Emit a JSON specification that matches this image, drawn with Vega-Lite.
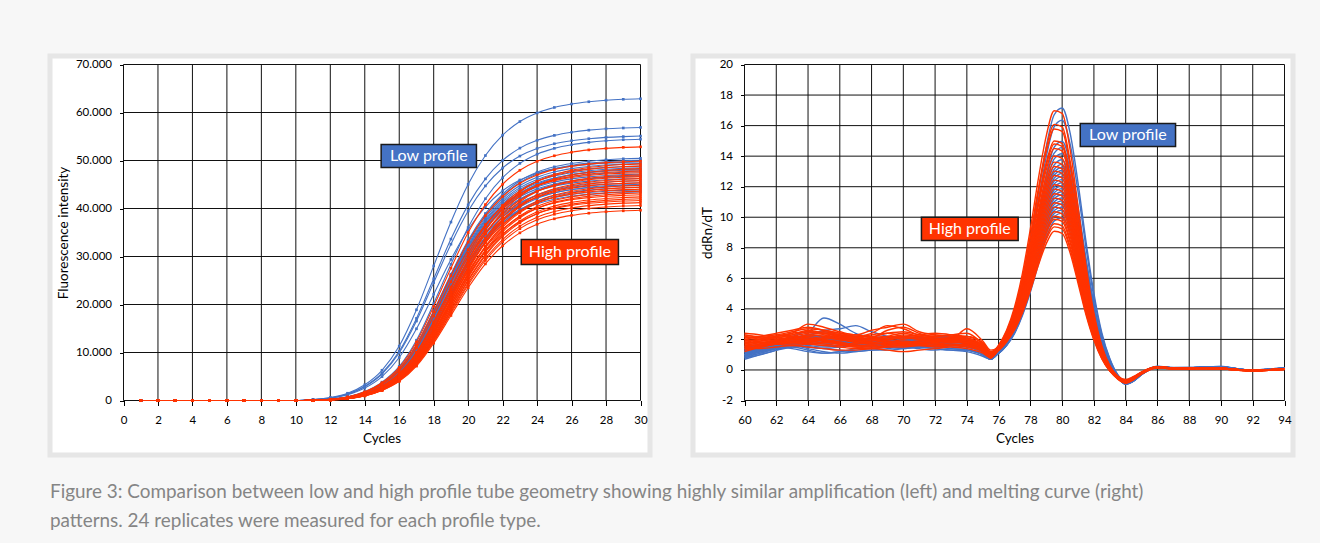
{
"$schema": "https://vega.github.io/schema/vega-lite/v6.json",
"background": "#f7f7f7",
"padding": {"left": 47, "top": 53, "right": 26, "bottom": 12},
"spacing": 37,
"title": {"text": ["Figure 3: Comparison between low and high profile tube geometry showing highly similar amplification (left) and melting curve (right)", "patterns. 24 replicates were measured for each profile type."], "orient": "bottom", "anchor": "start", "frame": "group", "offset": 25.5, "font": "Lato", "fontSize": 18.9, "fontWeight": "normal", "color": "#858585", "lineHeight": 29},
"datasets": {
"ampLow": [
{"k":"b1","c":[1,2,3,4,5,6,7,8,9,10,11,12,13,14,15,16,17,18,19,20,21,22,23,24,25,26,27,28,29,30],"y":[0,0,0,0,0,0,0,0,0,0,190,600,1510,3280,6300,11340,18900,28040,37170,45050,51030,55280,58120,59910,61050,61770,62240,62560,62750,62870]},
{"k":"b2","c":[1,2,3,4,5,6,7,8,9,10,11,12,13,14,15,16,17,18,19,20,21,22,23,24,25,26,27,28,29,30],"y":[0,0,0,0,0,0,0,0,0,0,170,540,1370,2960,5700,10260,17100,25370,33630,40760,46170,50020,52580,54210,55230,55890,56320,56600,56770,56890]},
{"k":"b3","c":[1,2,3,4,5,6,7,8,9,10,11,12,13,14,15,16,17,18,19,20,21,22,23,24,25,26,27,28,29,30],"y":[0,0,0,0,0,0,0,0,0,0,170,520,1320,2870,5520,9940,16560,24560,32570,39470,44710,48440,50920,52500,53490,54120,54540,54810,54980,55090]},
{"k":"b4","c":[1,2,3,4,5,6,7,8,9,10,11,12,13,14,15,16,17,18,19,20,21,22,23,24,25,26,27,28,29,30],"y":[0,0,0,0,0,0,0,0,0,0,50,270,760,1860,3820,7100,12560,20200,28390,36040,42040,46410,49410,51320,52530,53290,53780,54110,54330,54440]},
{"k":"b5","c":[1,2,3,4,5,6,7,8,9,10,11,12,13,14,15,16,17,18,19,20,21,22,23,24,25,26,27,28,29,30],"y":[0,0,0,0,0,0,0,0,0,0,50,250,710,1720,3540,6580,11640,18720,26310,33400,38960,43010,45790,47560,48680,49390,49840,50150,50350,50450]},
{"k":"b6","c":[1,2,3,4,5,6,7,8,9,10,11,12,13,14,15,16,17,18,19,20,21,22,23,24,25,26,27,28,29,30],"y":[0,0,0,0,0,0,0,0,0,0,50,250,700,1710,3510,6530,11550,18570,26100,33130,38650,42670,45430,47190,48290,49000,49450,49750,49950,50050]},
{"k":"b7","c":[1,2,3,4,5,6,7,8,9,10,11,12,13,14,15,16,17,18,19,20,21,22,23,24,25,26,27,28,29,30],"y":[0,0,0,0,0,0,0,0,0,0,150,470,1200,2590,4980,8960,14940,22160,29380,35610,40340,43700,45940,47360,48260,48830,49200,49450,49600,49700]},
{"k":"b8","c":[1,2,3,4,5,6,7,8,9,10,11,12,13,14,15,16,17,18,19,20,21,22,23,24,25,26,27,28,29,30],"y":[0,0,0,0,0,0,0,0,0,0,50,250,690,1680,3470,6440,11390,18320,25740,32670,38120,42080,44800,46530,47620,48310,48760,49050,49250,49350]},
{"k":"b9","c":[1,2,3,4,5,6,7,8,9,10,11,12,13,14,15,16,17,18,19,20,21,22,23,24,25,26,27,28,29,30],"y":[0,0,0,0,0,0,0,0,0,0,50,245,686,1666,3430,6370,11270,18130,25480,32340,37730,41650,44345,46060,47138,47824,48265,48559,48755,48853]},
{"k":"b10","c":[1,2,3,4,5,6,7,8,9,10,11,12,13,14,15,16,17,18,19,20,21,22,23,24,25,26,27,28,29,30],"y":[0,0,0,0,0,0,0,0,0,0,49,243,680,1652,3402,6318,11178,17982,25272,32076,37422,41310,43983,45684,46753,47434,47871,48163,48357,48454]},
{"k":"b11","c":[1,2,3,4,5,6,7,8,9,10,11,12,13,14,15,16,17,18,19,20,21,22,23,24,25,26,27,28,29,30],"y":[0,0,0,0,0,0,0,0,0,0,48,241,675,1639,3374,6266,11086,17834,25064,31812,37114,40970,43621,45308,46368,47043,47477,47766,47959,48055]},
{"k":"b12","c":[1,2,3,4,5,6,7,8,9,10,11,12,13,14,15,16,17,18,19,20,21,22,23,24,25,26,27,28,29,30],"y":[0,0,0,0,0,0,0,0,0,0,48,239,669,1625,3346,6214,10994,17686,24856,31548,36806,40630,43259,44932,45984,46653,47083,47370,47561,47657]},
{"k":"b13","c":[1,2,3,4,5,6,7,8,9,10,11,12,13,14,15,16,17,18,19,20,21,22,23,24,25,26,27,28,29,30],"y":[0,0,0,0,0,0,0,0,0,0,47,237,662,1608,3311,6149,10879,17501,24596,31218,36421,40205,42807,44462,45503,46165,46591,46874,47064,47158]},
{"k":"b14","c":[1,2,3,4,5,6,7,8,9,10,11,12,13,14,15,16,17,18,19,20,21,22,23,24,25,26,27,28,29,30],"y":[0,0,0,0,0,0,0,0,0,0,47,235,657,1595,3283,6097,10787,17353,24388,30954,36113,39865,42445,44086,45118,45774,46197,46478,46666,46759]},
{"k":"b15","c":[1,2,3,4,5,6,7,8,9,10,11,12,13,14,15,16,17,18,19,20,21,22,23,24,25,26,27,28,29,30],"y":[0,0,0,0,0,0,0,0,0,0,46,232,650,1578,3248,6032,10672,17168,24128,30624,35728,39440,41992,43616,44637,45286,45704,45982,46168,46261]},
{"k":"b16","c":[1,2,3,4,5,6,7,8,9,10,11,12,13,14,15,16,17,18,19,20,21,22,23,24,25,26,27,28,29,30],"y":[0,0,0,0,0,0,0,0,0,0,35,184,541,1334,2806,5290,9430,15410,22195,28750,34155,38180,40998,42838,43999,44735,45207,45517,45724,45839]},
{"k":"b17","c":[1,2,3,4,5,6,7,8,9,10,11,12,13,14,15,16,17,18,19,20,21,22,23,24,25,26,27,28,29,30],"y":[0,0,0,0,0,0,0,0,0,0,46,228,637,1547,3185,5915,10465,16835,23660,30030,35035,38675,41178,42770,43771,44408,44818,45091,45273,45364]},
{"k":"b18","c":[1,2,3,4,5,6,7,8,9,10,11,12,13,14,15,16,17,18,19,20,21,22,23,24,25,26,27,28,29,30],"y":[0,0,0,0,0,0,0,0,0,0,45,225,630,1530,3150,5850,10350,16650,23400,29700,34650,38250,40725,42300,43290,43920,44325,44595,44775,44865]},
{"k":"b19","c":[1,2,3,4,5,6,7,8,9,10,11,12,13,14,15,16,17,18,19,20,21,22,23,24,25,26,27,28,29,30],"y":[0,0,0,0,0,0,0,0,0,0,33,178,524,1293,2721,5129,9143,14941,21520,27875,33116,37018,39750,41534,42660,43374,43831,44132,44332,44444]},
{"k":"b20","c":[1,2,3,4,5,6,7,8,9,10,11,12,13,14,15,16,17,18,19,20,21,22,23,24,25,26,27,28,29,30],"y":[0,0,0,0,0,0,0,0,0,0,44,220,616,1496,3080,5720,10120,16280,22880,29040,33880,37400,39820,41360,42328,42944,43340,43604,43780,43868]},
{"k":"b21","c":[1,2,3,4,5,6,7,8,9,10,11,12,13,14,15,16,17,18,19,20,21,22,23,24,25,26,27,28,29,30],"y":[0,0,0,0,0,0,0,0,0,0,44,218,610,1482,3052,5668,10028,16132,22672,28776,33572,37060,39458,40984,41943,42554,42946,43208,43382,43469]},
{"k":"b22","c":[1,2,3,4,5,6,7,8,9,10,11,12,13,14,15,16,17,18,19,20,21,22,23,24,25,26,27,28,29,30],"y":[0,0,0,0,0,0,0,0,0,0,36,194,569,1404,2952,5566,9922,16214,23353,30250,35937,40172,43137,45073,46295,47069,47565,47892,48110,48231]},
{"k":"b23","c":[1,2,3,4,5,6,7,8,9,10,11,12,13,14,15,16,17,18,19,20,21,22,23,24,25,26,27,28,29,30],"y":[0,0,0,0,0,0,0,0,0,0,35,188,552,1363,2867,5405,9635,15745,22678,29375,34898,39010,41889,43769,44956,45708,46189,46507,46718,46836]},
{"k":"b24","c":[1,2,3,4,5,6,7,8,9,10,11,12,13,14,15,16,17,18,19,20,21,22,23,24,25,26,27,28,29,30],"y":[0,0,0,0,0,0,0,0,0,0,34,181,531,1311,2757,5198,9266,15142,21809,28250,33561,37516,40285,42093,43234,43957,44420,44725,44929,45042]}
],
"ampHigh": [
{"k":"r1","c":[1,2,3,4,5,6,7,8,9,10,11,12,13,14,15,16,17,18,19,20,21,22,23,24,25,26,27,28,29,30],"y":[0,0,0,0,0,0,0,0,0,0,53,265,742,1802,3710,6890,12190,19610,27560,34980,40810,45050,47965,49820,50986,51728,52205,52523,52735,52841]},
{"k":"r2","c":[1,2,3,4,5,6,7,8,9,10,11,12,13,14,15,16,17,18,19,20,21,22,23,24,25,26,27,28,29,30],"y":[0,0,0,0,0,0,0,0,0,0,50,250,700,1700,3500,6500,11500,18500,26000,33000,38500,42500,45250,47000,48100,48800,49250,49550,49750,49850]},
{"k":"r3","c":[1,2,3,4,5,6,7,8,9,10,11,12,13,14,15,16,17,18,19,20,21,22,23,24,25,26,27,28,29,30],"y":[0,0,0,0,0,0,0,0,0,0,25,149,470,1188,2574,4950,8910,14850,22028,29205,35393,40095,43436,45664,47075,47966,48535,48906,49154,49302]},
{"k":"r4","c":[1,2,3,4,5,6,7,8,9,10,11,12,13,14,15,16,17,18,19,20,21,22,23,24,25,26,27,28,29,30],"y":[0,0,0,0,0,0,0,0,0,0,37,196,576,1421,2989,5635,10045,16415,23643,30625,36383,40670,43671,45631,46869,47653,48155,48486,48706,48829]},
{"k":"r5","c":[1,2,3,4,5,6,7,8,9,10,11,12,13,14,15,16,17,18,19,20,21,22,23,24,25,26,27,28,29,30],"y":[0,0,0,0,0,0,0,0,0,0,24,146,461,1164,2522,4850,8730,14550,21583,28615,34678,39285,42559,44741,46124,46997,47554,47918,48161,48306]},
{"k":"r6","c":[1,2,3,4,5,6,7,8,9,10,11,12,13,14,15,16,17,18,19,20,21,22,23,24,25,26,27,28,29,30],"y":[0,0,0,0,0,0,0,0,0,0,36,192,564,1392,2928,5520,9840,16080,23160,30000,35640,39840,42780,44700,45912,46680,47172,47496,47712,47832]},
{"k":"r7","c":[1,2,3,4,5,6,7,8,9,10,11,12,13,14,15,16,17,18,19,20,21,22,23,24,25,26,27,28,29,30],"y":[0,0,0,0,0,0,0,0,0,0,48,238,666,1618,3332,6188,10948,17612,24752,31416,36652,40460,43078,44744,45791,46458,46886,47172,47362,47457]},
{"k":"r8","c":[1,2,3,4,5,6,7,8,9,10,11,12,13,14,15,16,17,18,19,20,21,22,23,24,25,26,27,28,29,30],"y":[0,0,0,0,0,0,0,0,0,0,24,142,448,1133,2454,4720,8496,14160,21004,27848,33748,38232,41418,43542,44887,45737,46280,46634,46870,47011]},
{"k":"r9","c":[1,2,3,4,5,6,7,8,9,10,11,12,13,14,15,16,17,18,19,20,21,22,23,24,25,26,27,28,29,30],"y":[0,0,0,0,0,0,0,0,0,0,35,187,550,1357,2855,5382,9594,15678,22581,29250,34749,38844,41711,43583,44764,45513,45993,46309,46519,46636]},
{"k":"r10","c":[1,2,3,4,5,6,7,8,9,10,11,12,13,14,15,16,17,18,19,20,21,22,23,24,25,26,27,28,29,30],"y":[0,0,0,0,0,0,0,0,0,0,23,139,441,1114,2413,4640,8352,13920,20648,27376,33176,37584,40716,42804,44126,44962,45495,45843,46075,46214]},
{"k":"r11","c":[1,2,3,4,5,6,7,8,9,10,11,12,13,14,15,16,17,18,19,20,21,22,23,24,25,26,27,28,29,30],"y":[0,0,0,0,0,0,0,0,0,0,23,138,437,1104,2392,4600,8280,13800,20470,27140,32890,37260,40365,42435,43746,44574,45103,45448,45678,45816]},
{"k":"r12","c":[1,2,3,4,5,6,7,8,9,10,11,12,13,14,15,16,17,18,19,20,21,22,23,24,25,26,27,28,29,30],"y":[0,0,0,0,0,0,0,0,0,0,34,182,535,1320,2776,5233,9328,15243,21954,28438,33784,37765,40552,42372,43521,44249,44715,45022,45227,45341]},
{"k":"r13","c":[1,2,3,4,5,6,7,8,9,10,11,12,13,14,15,16,17,18,19,20,21,22,23,24,25,26,27,28,29,30],"y":[0,0,0,0,0,0,0,0,0,0,23,135,428,1080,2340,4500,8100,13500,20025,26550,32175,36450,39488,41513,42795,43605,44123,44460,44685,44820]},
{"k":"r14","c":[1,2,3,4,5,6,7,8,9,10,11,12,13,14,15,16,17,18,19,20,21,22,23,24,25,26,27,28,29,30],"y":[0,0,0,0,0,0,0,0,0,0,22,134,424,1070,2319,4460,8028,13380,19847,26314,31889,36126,39137,41144,42415,43217,43730,44065,44288,44422]},
{"k":"r15","c":[1,2,3,4,5,6,7,8,9,10,11,12,13,14,15,16,17,18,19,20,21,22,23,24,25,26,27,28,29,30],"y":[0,0,0,0,0,0,0,0,0,0,33,177,519,1282,2696,5083,9061,14807,21327,27625,32819,36686,39393,41161,42277,42985,43438,43736,43935,44045]},
{"k":"r16","c":[1,2,3,4,5,6,7,8,9,10,11,12,13,14,15,16,17,18,19,20,21,22,23,24,25,26,27,28,29,30],"y":[0,0,0,0,0,0,0,0,0,0,22,131,416,1051,2278,4380,7884,13140,19491,25842,31317,35478,38435,40406,41654,42442,42946,43274,43493,43625]},
{"k":"r17","c":[1,2,3,4,5,6,7,8,9,10,11,12,13,14,15,16,17,18,19,20,21,22,23,24,25,26,27,28,29,30],"y":[0,0,0,0,0,0,0,0,0,0,22,130,412,1042,2257,4340,7812,13020,19313,25606,31031,35154,38084,40037,41273,42055,42554,42879,43096,43226]},
{"k":"r18","c":[1,2,3,4,5,6,7,8,9,10,11,12,13,14,15,16,17,18,19,20,21,22,23,24,25,26,27,28,29,30],"y":[0,0,0,0,0,0,0,0,0,0,32,172,505,1247,2623,4945,8815,14405,20748,26875,31928,35690,38324,40044,41130,41818,42258,42549,42742,42850]},
{"k":"r19","c":[1,2,3,4,5,6,7,8,9,10,11,12,13,14,15,16,17,18,19,20,21,22,23,24,25,26,27,28,29,30],"y":[0,0,0,0,0,0,0,0,0,0,21,128,405,1022,2215,4260,7668,12780,18957,25134,30459,34506,37382,39299,40513,41279,41769,42089,42302,42430]},
{"k":"r20","c":[1,2,3,4,5,6,7,8,9,10,11,12,13,14,15,16,17,18,19,20,21,22,23,24,25,26,27,28,29,30],"y":[0,0,0,0,0,0,0,0,0,0,21,127,401,1013,2194,4220,7596,12660,18779,24898,30173,34182,37031,38930,40132,40892,41377,41694,41905,42031]},
{"k":"r21","c":[1,2,3,4,5,6,7,8,9,10,11,12,13,14,15,16,17,18,19,20,21,22,23,24,25,26,27,28,29,30],"y":[0,0,0,0,0,0,0,0,0,0,31,167,491,1212,2550,4807,8569,14003,20169,26125,31037,34694,37254,38926,39982,40651,41079,41361,41549,41654]},
{"k":"r22","c":[1,2,3,4,5,6,7,8,9,10,11,12,13,14,15,16,17,18,19,20,21,22,23,24,25,26,27,28,29,30],"y":[0,0,0,0,0,0,0,0,0,0,21,124,393,994,2153,4140,7452,12420,18423,24426,29601,33534,36329,38192,39371,40117,40592,40903,41110,41234]},
{"k":"r23","c":[1,2,3,4,5,6,7,8,9,10,11,12,13,14,15,16,17,18,19,20,21,22,23,24,25,26,27,28,29,30],"y":[0,0,0,0,0,0,0,0,0,0,20,122,388,979,2122,4080,7344,12240,18156,24072,29172,33048,35802,37638,38801,39535,40004,40310,40514,40637]},
{"k":"r24","c":[1,2,3,4,5,6,7,8,9,10,11,12,13,14,15,16,17,18,19,20,21,22,23,24,25,26,27,28,29,30],"y":[0,0,0,0,0,0,0,0,0,0,20,119,378,955,2070,3980,7164,11940,17711,23482,28457,32238,34925,36716,37850,38566,39024,39322,39521,39641]}
],
"melt": [
{"t":60,"r1":2.3,"r2":1.9,"r3":1.5,"r4":2.1,"r5":1.2,"r6":2.4,"r7":1.7,"r8":1.6,"r9":2.0,"r10":1.4,"r11":2.2,"r12":1.8,"r13":1.3,"r14":2.0,"r15":1.6,"r16":2.2,"r17":1.9,"r18":1.5,"r19":2.1,"r20":1.7,"r21":2.3,"r22":1.4,"r23":1.8,"r24":2.0,"b1":0.7,"b2":0.9,"b3":1.0,"b4":1.2,"b5":1.4,"b6":0.8,"b7":1.1,"b8":1.3,"b9":1.0,"b10":1.5,"b11":0.9,"b12":1.2,"b13":1.4,"b14":1.1,"b15":0.8,"b16":1.3,"b17":1.0,"b18":1.2,"b19":1.5,"b20":0.9,"b21":1.1,"b22":1.3,"b23":1.0,"b24":1.2},
{"t":61,"r1":2.2,"r2":2.0,"r3":1.7,"r4":2.1,"r5":1.5,"r6":2.3,"r7":1.9,"r8":1.6,"r9":1.9,"r10":1.6,"r11":2.1,"r12":1.8,"r13":1.5,"r14":2.2,"r15":1.8,"r16":2.0,"r17":2.0,"r18":1.4,"r19":2.2,"r20":1.7,"r21":2.1,"r22":1.5,"r23":2.0,"r24":1.8,"b1":1.0,"b2":1.2,"b3":1.2,"b4":1.4,"b5":1.6,"b6":1.1,"b7":1.3,"b8":1.5,"b9":1.3,"b10":1.6,"b11":1.2,"b12":1.4,"b13":1.5,"b14":1.4,"b15":1.0,"b16":1.5,"b17":1.3,"b18":1.3,"b19":1.7,"b20":1.1,"b21":1.3,"b22":1.4,"b23":1.2,"b24":1.5},
{"t":62,"r1":2.3,"r2":2.2,"r3":2.0,"r4":2.0,"r5":1.8,"r6":2.1,"r7":2.1,"r8":1.8,"r9":1.9,"r10":1.9,"r11":2.2,"r12":1.7,"r13":1.7,"r14":2.4,"r15":1.9,"r16":1.8,"r17":2.1,"r18":1.5,"r19":2.3,"r20":1.8,"r21":1.9,"r22":1.7,"r23":2.2,"r24":1.7,"b1":1.3,"b2":1.5,"b3":1.4,"b4":1.6,"b5":1.8,"b6":1.4,"b7":1.6,"b8":1.7,"b9":1.6,"b10":1.7,"b11":1.5,"b12":1.7,"b13":1.6,"b14":1.8,"b15":1.3,"b16":1.8,"b17":1.5,"b18":1.5,"b19":1.9,"b20":1.4,"b21":1.5,"b22":1.5,"b23":1.5,"b24":1.8},
{"t":63,"r1":2.5,"r2":2.4,"r3":2.1,"r4":2.2,"r5":2.0,"r6":2.0,"r7":2.3,"r8":1.9,"r9":2.1,"r10":2.1,"r11":2.3,"r12":1.8,"r13":1.8,"r14":2.6,"r15":2.0,"r16":1.7,"r17":2.2,"r18":1.6,"r19":2.2,"r20":2.0,"r21":1.8,"r22":1.9,"r23":2.4,"r24":1.6,"b1":1.7,"b2":1.8,"b3":1.5,"b4":1.8,"b5":2.0,"b6":1.6,"b7":1.9,"b8":1.9,"b9":2.0,"b10":1.8,"b11":1.7,"b12":2.0,"b13":1.6,"b14":2.2,"b15":1.5,"b16":2.0,"b17":1.7,"b18":1.6,"b19":2.1,"b20":1.7,"b21":1.8,"b22":1.4,"b23":1.8,"b24":2.1},
{"t":64,"r1":2.7,"r2":3.0,"r3":2.2,"r4":2.4,"r5":2.3,"r6":2.0,"r7":2.6,"r8":1.8,"r9":2.3,"r10":2.1,"r11":2.5,"r12":2.0,"r13":1.7,"r14":2.8,"r15":1.9,"r16":1.8,"r17":2.1,"r18":1.5,"r19":2.0,"r20":2.2,"r21":1.9,"r22":2.0,"r23":2.5,"r24":1.7,"b1":2.4,"b2":2.2,"b3":1.3,"b4":1.9,"b5":2.1,"b6":1.5,"b7":2.1,"b8":1.8,"b9":2.3,"b10":1.7,"b11":1.6,"b12":2.2,"b13":1.5,"b14":2.5,"b15":1.7,"b16":2.1,"b17":1.9,"b18":1.4,"b19":2.3,"b20":1.9,"b21":2.0,"b22":1.2,"b23":2.1,"b24":2.2},
{"t":65,"r1":2.6,"r2":2.8,"r3":2.0,"r4":2.5,"r5":2.2,"r6":2.1,"r7":2.4,"r8":1.7,"r9":2.4,"r10":1.9,"r11":2.3,"r12":2.1,"r13":1.6,"r14":2.6,"r15":1.8,"r16":2.0,"r17":1.9,"r18":1.4,"r19":1.9,"r20":2.3,"r21":2.1,"r22":1.9,"r23":2.4,"r24":1.8,"b1":3.4,"b2":2.6,"b3":1.1,"b4":1.8,"b5":2.2,"b6":1.4,"b7":2.0,"b8":1.7,"b9":2.5,"b10":1.6,"b11":1.5,"b12":2.1,"b13":1.4,"b14":2.4,"b15":1.8,"b16":2.0,"b17":2.0,"b18":1.2,"b19":2.2,"b20":1.9,"b21":2.1,"b22":1.1,"b23":2.2,"b24":2.1},
{"t":66,"r1":2.4,"r2":2.5,"r3":1.8,"r4":2.3,"r5":2.1,"r6":2.2,"r7":2.2,"r8":1.6,"r9":2.2,"r10":1.7,"r11":2.0,"r12":2.0,"r13":1.5,"r14":2.4,"r15":1.9,"r16":2.1,"r17":1.8,"r18":1.3,"r19":2.0,"r20":2.1,"r21":2.3,"r22":1.7,"r23":2.3,"r24":1.7,"b1":3.0,"b2":2.7,"b3":1.2,"b4":1.7,"b5":2.0,"b6":1.3,"b7":1.9,"b8":1.8,"b9":2.3,"b10":1.6,"b11":1.6,"b12":1.9,"b13":1.5,"b14":2.2,"b15":1.7,"b16":1.8,"b17":2.1,"b18":1.1,"b19":2.1,"b20":1.8,"b21":1.9,"b22":1.2,"b23":2.0,"b24":1.9},
{"t":67,"r1":2.3,"r2":2.3,"r3":1.7,"r4":2.1,"r5":1.9,"r6":2.0,"r7":2.0,"r8":1.5,"r9":1.9,"r10":1.6,"r11":1.9,"r12":1.8,"r13":1.4,"r14":2.2,"r15":2.0,"r16":2.2,"r17":1.7,"r18":1.3,"r19":2.1,"r20":1.9,"r21":2.2,"r22":1.5,"r23":2.1,"r24":1.6,"b1":2.4,"b2":2.9,"b3":1.3,"b4":1.6,"b5":1.8,"b6":1.2,"b7":1.8,"b8":1.9,"b9":2.1,"b10":1.7,"b11":1.8,"b12":1.8,"b13":1.6,"b14":2.0,"b15":1.6,"b16":1.7,"b17":2.3,"b18":1.2,"b19":2.0,"b20":1.7,"b21":1.7,"b22":1.4,"b23":1.9,"b24":1.8},
{"t":68,"r1":2.2,"r2":2.6,"r3":1.8,"r4":2.0,"r5":1.8,"r6":1.9,"r7":2.1,"r8":1.5,"r9":1.7,"r10":1.6,"r11":2.0,"r12":1.7,"r13":1.4,"r14":2.4,"r15":2.1,"r16":2.1,"r17":1.9,"r18":1.4,"r19":2.3,"r20":1.8,"r21":2.0,"r22":1.4,"r23":2.0,"r24":1.5,"b1":2.1,"b2":2.5,"b3":1.4,"b4":1.7,"b5":1.9,"b6":1.3,"b7":1.9,"b8":1.8,"b9":2.0,"b10":1.8,"b11":2.0,"b12":1.7,"b13":1.6,"b14":1.9,"b15":1.5,"b16":1.8,"b17":2.2,"b18":1.3,"b19":2.1,"b20":1.6,"b21":1.6,"b22":1.6,"b23":2.0,"b24":1.7},
{"t":69,"r1":2.4,"r2":2.8,"r3":1.9,"r4":2.0,"r5":1.7,"r6":2.0,"r7":2.6,"r8":1.6,"r9":1.8,"r10":1.7,"r11":2.2,"r12":1.8,"r13":1.5,"r14":2.9,"r15":2.2,"r16":1.9,"r17":2.1,"r18":1.3,"r19":2.4,"r20":1.7,"r21":1.8,"r22":1.5,"r23":2.1,"r24":1.6,"b1":1.9,"b2":2.2,"b3":1.5,"b4":1.8,"b5":2.1,"b6":1.3,"b7":2.0,"b8":1.7,"b9":1.9,"b10":1.9,"b11":1.9,"b12":1.8,"b13":1.5,"b14":1.8,"b15":1.6,"b16":1.9,"b17":2.0,"b18":1.4,"b19":2.2,"b20":1.7,"b21":1.6,"b22":1.7,"b23":2.1,"b24":1.8},
{"t":70,"r1":2.5,"r2":3.0,"r3":1.8,"r4":2.1,"r5":1.6,"r6":2.2,"r7":2.8,"r8":1.7,"r9":2.0,"r10":1.8,"r11":2.4,"r12":1.9,"r13":1.5,"r14":2.7,"r15":2.1,"r16":1.8,"r17":2.3,"r18":1.2,"r19":2.2,"r20":1.7,"r21":1.7,"r22":1.6,"r23":2.2,"r24":1.7,"b1":1.8,"b2":2.0,"b3":1.5,"b4":1.9,"b5":2.0,"b6":1.4,"b7":2.2,"b8":1.6,"b9":2.0,"b10":1.8,"b11":1.7,"b12":2.0,"b13":1.4,"b14":1.9,"b15":1.7,"b16":1.9,"b17":1.8,"b18":1.5,"b19":2.1,"b20":1.8,"b21":1.7,"b22":1.6,"b23":2.0,"b24":1.9},
{"t":71,"r1":2.3,"r2":2.5,"r3":1.7,"r4":2.2,"r5":1.7,"r6":2.1,"r7":2.4,"r8":1.8,"r9":2.1,"r10":1.9,"r11":2.2,"r12":1.8,"r13":1.6,"r14":2.3,"r15":2.0,"r16":1.9,"r17":2.2,"r18":1.3,"r19":2.0,"r20":1.8,"r21":1.8,"r22":1.6,"r23":2.3,"r24":1.7,"b1":1.9,"b2":1.9,"b3":1.4,"b4":1.8,"b5":1.9,"b6":1.5,"b7":2.1,"b8":1.7,"b9":2.1,"b10":1.7,"b11":1.6,"b12":2.1,"b13":1.5,"b14":2.0,"b15":1.6,"b16":1.8,"b17":1.7,"b18":1.6,"b19":2.0,"b20":1.9,"b21":1.8,"b22":1.5,"b23":1.9,"b24":2.0},
{"t":72,"r1":2.2,"r2":2.3,"r3":1.8,"r4":2.3,"r5":1.8,"r6":2.0,"r7":2.1,"r8":1.7,"r9":2.0,"r10":2.0,"r11":2.1,"r12":1.7,"r13":1.6,"r14":2.2,"r15":1.9,"r16":2.0,"r17":2.0,"r18":1.4,"r19":1.9,"r20":1.9,"r21":1.9,"r22":1.5,"r23":2.4,"r24":1.6,"b1":2.0,"b2":1.8,"b3":1.3,"b4":1.7,"b5":2.0,"b6":1.4,"b7":1.9,"b8":1.8,"b9":2.2,"b10":1.6,"b11":1.7,"b12":2.0,"b13":1.6,"b14":2.1,"b15":1.5,"b16":1.9,"b17":1.8,"b18":1.5,"b19":2.1,"b20":1.8,"b21":1.9,"b22":1.4,"b23":1.8,"b24":2.1},
{"t":73,"r1":2.3,"r2":2.2,"r3":1.9,"r4":2.2,"r5":1.9,"r6":2.1,"r7":2.0,"r8":1.6,"r9":2.0,"r10":2.1,"r11":2.1,"r12":1.8,"r13":1.7,"r14":2.3,"r15":1.8,"r16":2.1,"r17":1.9,"r18":1.5,"r19":2.0,"r20":2.0,"r21":1.9,"r22":1.6,"r23":2.3,"r24":1.6,"b1":2.0,"b2":1.9,"b3":1.4,"b4":1.8,"b5":2.1,"b6":1.3,"b7":1.8,"b8":1.9,"b9":2.1,"b10":1.7,"b11":1.8,"b12":1.9,"b13":1.5,"b14":2.2,"b15":1.6,"b16":2.0,"b17":1.9,"b18":1.4,"b19":2.2,"b20":1.7,"b21":2.0,"b22":1.3,"b23":1.9,"b24":2.0},
{"t":74,"r1":2.2,"r2":2.1,"r3":1.8,"r4":2.0,"r5":1.7,"r6":2.2,"r7":2.7,"r8":1.7,"r9":1.9,"r10":1.8,"r11":2.0,"r12":1.8,"r13":1.6,"r14":2.4,"r15":1.8,"r16":1.9,"r17":2.0,"r18":1.4,"r19":2.2,"r20":1.9,"r21":1.8,"r22":1.5,"r23":2.1,"r24":1.6,"b1":1.8,"b2":1.7,"b3":1.3,"b4":1.9,"b5":2.0,"b6":1.2,"b7":1.7,"b8":1.7,"b9":2.0,"b10":1.6,"b11":1.8,"b12":1.8,"b13":1.4,"b14":2.1,"b15":1.5,"b16":1.9,"b17":1.8,"b18":1.3,"b19":2.0,"b20":1.6,"b21":1.9,"b22":1.3,"b23":1.8,"b24":1.9},
{"t":75,"r1":1.7,"r2":1.6,"r3":1.4,"r4":1.5,"r5":1.3,"r6":1.8,"r7":1.9,"r8":1.4,"r9":1.5,"r10":1.3,"r11":1.6,"r12":1.5,"r13":1.2,"r14":1.7,"r15":1.4,"r16":1.5,"r17":1.6,"r18":1.1,"r19":1.7,"r20":1.5,"r21":1.4,"r22":1.2,"r23":1.6,"r24":1.3,"b1":1.3,"b2":1.2,"b3":1.0,"b4":1.3,"b5":1.5,"b6":0.9,"b7":1.2,"b8":1.3,"b9":1.4,"b10":1.2,"b11":1.3,"b12":1.3,"b13":1.0,"b14":1.5,"b15":1.1,"b16":1.4,"b17":1.3,"b18":1.0,"b19":1.5,"b20":1.2,"b21":1.4,"b22":1.0,"b23":1.3,"b24":1.4},
{"t":75.5,"r1":1.1,"r2":1.0,"r3":0.9,"r4":1.0,"r5":0.8,"r6":1.2,"r7":1.3,"r8":0.9,"r9":1.0,"r10":0.8,"r11":1.1,"r12":1.0,"r13":0.8,"r14":1.2,"r15":0.9,"r16":1.0,"r17":1.1,"r18":0.8,"r19":1.1,"r20":1.0,"r21":0.9,"r22":0.8,"r23":1.1,"r24":0.9,"b1":0.8,"b2":0.7,"b3":0.7,"b4":0.8,"b5":0.9,"b6":0.7,"b7":0.8,"b8":0.8,"b9":0.9,"b10":0.8,"b11":0.8,"b12":0.8,"b13":0.7,"b14":0.9,"b15":0.7,"b16":0.9,"b17":0.8,"b18":0.7,"b19":1.0,"b20":0.8,"b21":0.9,"b22":0.7,"b23":0.8,"b24":0.9},
{"t":76,"r1":1.63,"r2":1.6,"r3":1.58,"r4":1.55,"r5":1.54,"r6":1.52,"r7":1.5,"r8":1.49,"r9":1.47,"r10":1.46,"r11":1.45,"r12":1.43,"r13":1.42,"r14":1.41,"r15":1.39,"r16":1.38,"r17":1.37,"r18":1.35,"r19":1.34,"r20":1.33,"r21":1.32,"r22":1.3,"r23":1.3,"r24":1.28,"b1":1.32,"b2":1.29,"b3":1.25,"b4":1.23,"b5":1.22,"b6":1.21,"b7":1.2,"b8":1.19,"b9":1.18,"b10":1.18,"b11":1.17,"b12":1.16,"b13":1.15,"b14":1.15,"b15":1.14,"b16":1.13,"b17":1.13,"b18":1.12,"b19":1.11,"b20":1.11,"b21":1.1,"b22":1.09,"b23":1.09,"b24":1.08},
{"t":76.5,"r1":2.6,"r2":2.51,"r3":2.48,"r4":2.41,"r5":2.39,"r6":2.36,"r7":2.31,"r8":2.27,"r9":2.24,"r10":2.21,"r11":2.19,"r12":2.16,"r13":2.13,"r14":2.1,"r15":2.07,"r16":2.04,"r17":2.01,"r18":1.98,"r19":1.96,"r20":1.93,"r21":1.91,"r22":1.88,"r23":1.86,"r24":1.83,"b1":2.14,"b2":2.08,"b3":1.97,"b4":1.94,"b5":1.91,"b6":1.88,"b7":1.85,"b8":1.84,"b9":1.82,"b10":1.81,"b11":1.79,"b12":1.78,"b13":1.76,"b14":1.75,"b15":1.73,"b16":1.72,"b17":1.7,"b18":1.68,"b19":1.67,"b20":1.65,"b21":1.64,"b22":1.62,"b23":1.61,"b24":1.59},
{"t":77,"r1":4.11,"r2":3.94,"r3":3.88,"r4":3.73,"r5":3.7,"r6":3.64,"r7":3.55,"r8":3.47,"r9":3.42,"r10":3.36,"r11":3.31,"r12":3.25,"r13":3.19,"r14":3.14,"r15":3.08,"r16":3.03,"r17":2.97,"r18":2.92,"r19":2.86,"r20":2.8,"r21":2.77,"r22":2.71,"r23":2.67,"r24":2.62,"b1":3.49,"b2":3.36,"b3":3.15,"b4":3.09,"b5":3.03,"b6":2.96,"b7":2.92,"b8":2.89,"b9":2.86,"b10":2.83,"b11":2.79,"b12":2.76,"b13":2.73,"b14":2.7,"b15":2.67,"b16":2.64,"b17":2.61,"b18":2.58,"b19":2.55,"b20":2.52,"b21":2.49,"b22":2.46,"b23":2.42,"b24":2.38},
{"t":77.5,"r1":6.33,"r2":6.04,"r3":5.94,"r4":5.68,"r5":5.61,"r6":5.52,"r7":5.35,"r8":5.22,"r9":5.13,"r10":5.03,"r11":4.93,"r12":4.83,"r13":4.74,"r14":4.64,"r15":4.54,"r16":4.44,"r17":4.35,"r18":4.25,"r19":4.15,"r20":4.05,"r21":3.99,"r22":3.89,"r23":3.83,"r24":3.73,"b1":5.57,"b2":5.35,"b3":4.96,"b4":4.85,"b5":4.74,"b6":4.63,"b7":4.54,"b8":4.49,"b9":4.43,"b10":4.38,"b11":4.32,"b12":4.26,"b13":4.21,"b14":4.15,"b15":4.1,"b16":4.04,"b17":3.99,"b18":3.93,"b19":3.87,"b20":3.82,"b21":3.76,"b22":3.71,"b23":3.65,"b24":3.57},
{"t":78,"r1":9.25,"r2":8.79,"r3":8.64,"r4":8.24,"r5":8.14,"r6":7.99,"r7":7.73,"r8":7.53,"r9":7.38,"r10":7.23,"r11":7.07,"r12":6.92,"r13":6.77,"r14":6.62,"r15":6.47,"r16":6.32,"r17":6.16,"r18":6.01,"r19":5.86,"r20":5.71,"r21":5.61,"r22":5.46,"r23":5.35,"r24":5.2,"b1":8.33,"b2":7.97,"b3":7.34,"b4":7.16,"b5":6.98,"b6":6.8,"b7":6.67,"b8":6.58,"b9":6.49,"b10":6.4,"b11":6.31,"b12":6.22,"b13":6.13,"b14":6.04,"b15":5.95,"b16":5.86,"b17":5.77,"b18":5.68,"b19":5.59,"b20":5.5,"b21":5.41,"b22":5.32,"b23":5.24,"b24":5.1},
{"t":78.5,"r1":12.51,"r2":11.87,"r3":11.66,"r4":11.09,"r5":10.95,"r6":10.74,"r7":10.39,"r8":10.1,"r9":9.89,"r10":9.68,"r11":9.47,"r12":9.25,"r13":9.04,"r14":8.83,"r15":8.62,"r16":8.41,"r17":8.19,"r18":7.98,"r19":7.77,"r20":7.56,"r21":7.42,"r22":7.2,"r23":7.06,"r24":6.85,"b1":11.57,"b2":11.05,"b3":10.15,"b4":9.89,"b5":9.63,"b6":9.37,"b7":9.18,"b8":9.05,"b9":8.92,"b10":8.79,"b11":8.66,"b12":8.53,"b13":8.4,"b14":8.27,"b15":8.14,"b16":8.01,"b17":7.88,"b18":7.75,"b19":7.62,"b20":7.49,"b21":7.36,"b22":7.23,"b23":7.11,"b24":6.91},
{"t":79,"r1":15.33,"r2":14.54,"r3":14.27,"r4":13.57,"r5":13.39,"r6":13.12,"r7":12.68,"r8":12.33,"r9":12.07,"r10":11.8,"r11":11.54,"r12":11.27,"r13":11.01,"r14":10.74,"r15":10.48,"r16":10.21,"r17":9.95,"r18":9.68,"r19":9.42,"r20":9.16,"r21":8.98,"r22":8.71,"r23":8.54,"r24":8.27,"b1":14.63,"b2":13.96,"b3":12.79,"b4":12.46,"b5":12.12,"b6":11.79,"b7":11.54,"b8":11.37,"b9":11.2,"b10":11.04,"b11":10.87,"b12":10.7,"b13":10.54,"b14":10.37,"b15":10.2,"b16":10.04,"b17":9.87,"b18":9.7,"b19":9.53,"b20":9.37,"b21":9.2,"b22":9.03,"b23":8.87,"b24":8.62},
{"t":79.5,"r1":16.97,"r2":16.08,"r3":15.78,"r4":14.99,"r5":14.8,"r6":14.5,"r7":14.01,"r8":13.61,"r9":13.32,"r10":13.02,"r11":12.73,"r12":12.43,"r13":12.13,"r14":11.84,"r15":11.54,"r16":11.25,"r17":10.95,"r18":10.66,"r19":10.36,"r20":10.06,"r21":9.87,"r22":9.57,"r23":9.37,"r24":9.08,"b1":16.71,"b2":15.94,"b3":14.59,"b4":14.2,"b5":13.82,"b6":13.43,"b7":13.14,"b8":12.95,"b9":12.76,"b10":12.56,"b11":12.37,"b12":12.18,"b13":11.98,"b14":11.79,"b15":11.6,"b16":11.4,"b17":11.21,"b18":11.02,"b19":10.83,"b20":10.63,"b21":10.44,"b22":10.25,"b23":10.05,"b24":9.76},
{"t":80,"r1":16.8,"r2":15.92,"r3":15.62,"r4":14.84,"r5":14.64,"r6":14.34,"r7":13.85,"r8":13.46,"r9":13.17,"r10":12.87,"r11":12.58,"r12":12.28,"r13":11.99,"r14":11.69,"r15":11.4,"r16":11.1,"r17":10.81,"r18":10.51,"r19":10.22,"r20":9.93,"r21":9.73,"r22":9.43,"r23":9.24,"r24":8.94,"b1":17.15,"b2":16.35,"b3":14.96,"b4":14.56,"b5":14.16,"b6":13.76,"b7":13.46,"b8":13.26,"b9":13.06,"b10":12.86,"b11":12.66,"b12":12.46,"b13":12.26,"b14":12.06,"b15":11.87,"b16":11.67,"b17":11.47,"b18":11.27,"b19":11.07,"b20":10.87,"b21":10.67,"b22":10.47,"b23":10.27,"b24":9.97},
{"t":80.5,"r1":14.44,"r2":13.68,"r3":13.43,"r4":12.75,"r5":12.58,"r6":12.33,"r7":11.9,"r8":11.57,"r9":11.31,"r10":11.06,"r11":10.8,"r12":10.55,"r13":10.29,"r14":10.04,"r15":9.79,"r16":9.53,"r17":9.28,"r18":9.02,"r19":8.77,"r20":8.52,"r21":8.35,"r22":8.09,"r23":7.92,"r24":7.67,"b1":15.52,"b2":14.8,"b3":13.53,"b4":13.17,"b5":12.8,"b6":12.44,"b7":12.17,"b8":11.99,"b9":11.81,"b10":11.63,"b11":11.44,"b12":11.26,"b13":11.08,"b14":10.9,"b15":10.72,"b16":10.54,"b17":10.36,"b18":10.18,"b19":9.99,"b20":9.81,"b21":9.63,"b22":9.45,"b23":9.27,"b24":9.0},
{"t":81,"r1":10.72,"r2":10.15,"r3":9.97,"r4":9.46,"r5":9.34,"r6":9.15,"r7":8.83,"r8":8.58,"r9":8.39,"r10":8.2,"r11":8.01,"r12":7.82,"r13":7.63,"r14":7.45,"r15":7.26,"r16":7.07,"r17":6.88,"r18":6.69,"r19":6.5,"r20":6.31,"r21":6.19,"r22":6.0,"r23":5.87,"r24":5.68,"b1":12.25,"b2":11.67,"b3":10.67,"b4":10.38,"b5":10.09,"b6":9.81,"b7":9.59,"b8":9.45,"b9":9.31,"b10":9.16,"b11":9.02,"b12":8.88,"b13":8.73,"b14":8.59,"b15":8.45,"b16":8.3,"b17":8.16,"b18":8.02,"b19":7.87,"b20":7.73,"b21":7.59,"b22":7.44,"b23":7.3,"b24":7.08},
{"t":81.5,"r1":6.85,"r2":6.48,"r3":6.36,"r4":6.04,"r5":5.96,"r6":5.84,"r7":5.63,"r8":5.47,"r9":5.35,"r10":5.23,"r11":5.11,"r12":4.99,"r13":4.87,"r14":4.75,"r15":4.62,"r16":4.5,"r17":4.38,"r18":4.26,"r19":4.14,"r20":4.02,"r21":3.94,"r22":3.82,"r23":3.74,"r24":3.61,"b1":8.42,"b2":8.02,"b3":7.33,"b4":7.13,"b5":6.93,"b6":6.73,"b7":6.58,"b8":6.49,"b9":6.39,"b10":6.29,"b11":6.19,"b12":6.09,"b13":5.99,"b14":5.89,"b15":5.79,"b16":5.69,"b17":5.59,"b18":5.5,"b19":5.4,"b20":5.3,"b21":5.2,"b22":5.1,"b23":5.0,"b24":4.85},
{"t":82,"r1":3.74,"r2":3.54,"r3":3.47,"r4":3.29,"r5":3.25,"r6":3.18,"r7":3.07,"r8":2.98,"r9":2.91,"r10":2.84,"r11":2.78,"r12":2.71,"r13":2.64,"r14":2.58,"r15":2.51,"r16":2.44,"r17":2.37,"r18":2.31,"r19":2.24,"r20":2.17,"r21":2.13,"r22":2.06,"r23":2.02,"r24":1.95,"b1":5.01,"b2":4.77,"b3":4.35,"b4":4.23,"b5":4.11,"b6":3.99,"b7":3.9,"b8":3.84,"b9":3.78,"b10":3.73,"b11":3.67,"b12":3.61,"b13":3.55,"b14":3.49,"b15":3.43,"b16":3.37,"b17":3.31,"b18":3.25,"b19":3.19,"b20":3.13,"b21":3.07,"b22":3.01,"b23":2.95,"b24":2.86},
{"t":82.5,"r1":1.59,"r2":1.49,"r3":1.46,"r4":1.37,"r5":1.35,"r6":1.32,"r7":1.27,"r8":1.22,"r9":1.19,"r10":1.16,"r11":1.13,"r12":1.09,"r13":1.06,"r14":1.03,"r15":1.0,"r16":0.97,"r17":0.93,"r18":0.9,"r19":0.87,"r20":0.84,"r21":0.82,"r22":0.78,"r23":0.76,"r24":0.73,"b1":2.42,"b2":2.3,"b3":2.08,"b4":2.02,"b5":1.95,"b6":1.89,"b7":1.84,"b8":1.81,"b9":1.78,"b10":1.75,"b11":1.72,"b12":1.69,"b13":1.66,"b14":1.63,"b15":1.59,"b16":1.56,"b17":1.53,"b18":1.5,"b19":1.47,"b20":1.44,"b21":1.41,"b22":1.38,"b23":1.34,"b24":1.3},
{"t":83,"r1":0.28,"r2":0.25,"r3":0.23,"r4":0.2,"r5":0.19,"r6":0.17,"r7":0.15,"r8":0.14,"r9":0.12,"r10":0.11,"r11":0.1,"r12":0.08,"r13":0.07,"r14":0.06,"r15":0.04,"r16":0.03,"r17":0.02,"r18":0.0,"r19":-0.01,"r20":-0.02,"r21":-0.03,"r22":-0.05,"r23":-0.05,"r24":-0.07,"b1":0.75,"b2":0.7,"b3":0.6,"b4":0.57,"b5":0.54,"b6":0.51,"b7":0.49,"b8":0.47,"b9":0.46,"b10":0.45,"b11":0.43,"b12":0.42,"b13":0.4,"b14":0.39,"b15":0.37,"b16":0.36,"b17":0.34,"b18":0.33,"b19":0.32,"b20":0.3,"b21":0.29,"b22":0.27,"b23":0.26,"b24":0.24},
{"t":83.5,"r1":-0.4,"r2":-0.48,"r3":-0.42,"r4":-0.52,"r5":-0.45,"r6":-0.5,"r7":-0.44,"r8":-0.55,"r9":-0.47,"r10":-0.49,"r11":-0.53,"r12":-0.46,"r13":-0.58,"r14":-0.5,"r15":-0.48,"r16":-0.56,"r17":-0.51,"r18":-0.47,"r19":-0.6,"r20":-0.52,"r21":-0.49,"r22":-0.57,"r23":-0.53,"r24":-0.55,"b1":-0.3,"b2":-0.35,"b3":-0.38,"b4":-0.33,"b5":-0.4,"b6":-0.36,"b7":-0.42,"b8":-0.37,"b9":-0.41,"b10":-0.38,"b11":-0.44,"b12":-0.39,"b13":-0.43,"b14":-0.45,"b15":-0.4,"b16":-0.46,"b17":-0.42,"b18":-0.47,"b19":-0.43,"b20":-0.48,"b21":-0.45,"b22":-0.49,"b23":-0.47,"b24":-0.5},
{"t":84,"r1":-0.62,"r2":-0.75,"r3":-0.68,"r4":-0.8,"r5":-0.7,"r6":-0.78,"r7":-0.66,"r8":-0.83,"r9":-0.72,"r10":-0.74,"r11":-0.8,"r12":-0.7,"r13":-0.85,"r14":-0.76,"r15":-0.72,"r16":-0.82,"r17":-0.77,"r18":-0.71,"r19":-0.86,"r20":-0.78,"r21":-0.74,"r22":-0.84,"r23":-0.79,"r24":-0.81,"b1":-0.75,"b2":-0.8,"b3":-0.85,"b4":-0.78,"b5":-0.88,"b6":-0.8,"b7":-0.9,"b8":-0.82,"b9":-0.86,"b10":-0.79,"b11":-0.92,"b12":-0.83,"b13":-0.87,"b14":-0.9,"b15":-0.81,"b16":-0.93,"b17":-0.85,"b18":-0.89,"b19":-0.84,"b20":-0.91,"b21":-0.86,"b22":-0.94,"b23":-0.88,"b24":-0.92},
{"t":84.5,"r1":-0.42,"r2":-0.52,"r3":-0.48,"r4":-0.58,"r5":-0.5,"r6":-0.56,"r7":-0.46,"r8":-0.6,"r9":-0.52,"r10":-0.53,"r11":-0.57,"r12":-0.5,"r13":-0.62,"r14":-0.54,"r15":-0.51,"r16":-0.59,"r17":-0.55,"r18":-0.5,"r19":-0.63,"r20":-0.56,"r21":-0.53,"r22":-0.6,"r23":-0.56,"r24":-0.58,"b1":-0.58,"b2":-0.62,"b3":-0.66,"b4":-0.6,"b5":-0.68,"b6":-0.62,"b7":-0.7,"b8":-0.64,"b9":-0.67,"b10":-0.61,"b11":-0.71,"b12":-0.64,"b13":-0.68,"b14":-0.7,"b15":-0.63,"b16":-0.72,"b17":-0.66,"b18":-0.69,"b19":-0.65,"b20":-0.71,"b21":-0.67,"b22":-0.73,"b23":-0.69,"b24":-0.72},
{"t":85,"r1":-0.12,"r2":-0.18,"r3":-0.15,"r4":-0.22,"r5":-0.16,"r6":-0.2,"r7":-0.14,"r8":-0.24,"r9":-0.18,"r10":-0.19,"r11":-0.22,"r12":-0.17,"r13":-0.26,"r14":-0.2,"r15":-0.18,"r16":-0.23,"r17":-0.21,"r18":-0.17,"r19":-0.27,"r20":-0.21,"r21":-0.19,"r22":-0.24,"r23":-0.21,"r24":-0.22,"b1":-0.18,"b2":-0.22,"b3":-0.26,"b4":-0.2,"b5":-0.27,"b6":-0.22,"b7":-0.28,"b8":-0.23,"b9":-0.26,"b10":-0.21,"b11":-0.29,"b12":-0.24,"b13":-0.27,"b14":-0.28,"b15":-0.22,"b16":-0.3,"b17":-0.25,"b18":-0.28,"b19":-0.24,"b20":-0.29,"b21":-0.26,"b22":-0.31,"b23":-0.27,"b24":-0.3},
{"t":86,"r1":0.22,"r2":0.19,"r3":0.2,"r4":0.16,"r5":0.2,"r6":0.18,"r7":0.21,"r8":0.15,"r9":0.19,"r10":0.18,"r11":0.16,"r12":0.2,"r13":0.14,"r14":0.18,"r15":0.19,"r16":0.16,"r17":0.18,"r18":0.2,"r19":0.14,"r20":0.17,"r21":0.19,"r22":0.15,"r23":0.17,"r24":0.16,"b1":0.24,"b2":0.22,"b3":0.2,"b4":0.23,"b5":0.19,"b6":0.22,"b7":0.18,"b8":0.21,"b9":0.19,"b10":0.22,"b11":0.18,"b12":0.21,"b13":0.19,"b14":0.18,"b15":0.22,"b16":0.17,"b17":0.2,"b18":0.18,"b19":0.21,"b20":0.18,"b21":0.2,"b22":0.17,"b23":0.19,"b24":0.18},
{"t":87,"r1":0.13,"r2":0.11,"r3":0.12,"r4":0.09,"r5":0.12,"r6":0.1,"r7":0.13,"r8":0.08,"r9":0.11,"r10":0.1,"r11":0.09,"r12":0.12,"r13":0.08,"r14":0.1,"r15":0.11,"r16":0.09,"r17":0.1,"r18":0.12,"r19":0.07,"r20":0.1,"r21":0.11,"r22":0.08,"r23":0.1,"r24":0.09,"b1":0.16,"b2":0.14,"b3":0.13,"b4":0.15,"b5":0.12,"b6":0.14,"b7":0.12,"b8":0.14,"b9":0.13,"b10":0.15,"b11":0.12,"b12":0.14,"b13":0.13,"b14":0.12,"b15":0.15,"b16":0.11,"b17":0.13,"b18":0.12,"b19":0.14,"b20":0.12,"b21":0.13,"b22":0.11,"b23":0.13,"b24":0.12},
{"t":88,"r1":0.1,"r2":0.12,"r3":0.1,"r4":0.08,"r5":0.11,"r6":0.12,"r7":0.1,"r8":0.08,"r9":0.11,"r10":0.12,"r11":0.09,"r12":0.1,"r13":0.08,"r14":0.11,"r15":0.12,"r16":0.09,"r17":0.1,"r18":0.11,"r19":0.08,"r20":0.1,"r21":0.12,"r22":0.09,"r23":0.1,"r24":0.08,"b1":0.16,"b2":0.14,"b3":0.13,"b4":0.15,"b5":0.12,"b6":0.14,"b7":0.13,"b8":0.15,"b9":0.13,"b10":0.16,"b11":0.12,"b12":0.14,"b13":0.13,"b14":0.12,"b15":0.15,"b16":0.12,"b17":0.14,"b18":0.13,"b19":0.15,"b20":0.12,"b21":0.14,"b22":0.12,"b23":0.13,"b24":0.13},
{"t":89,"r1":0.11,"r2":0.13,"r3":0.1,"r4":0.1,"r5":0.12,"r6":0.13,"r7":0.11,"r8":0.09,"r9":0.12,"r10":0.13,"r11":0.1,"r12":0.11,"r13":0.09,"r14":0.12,"r15":0.13,"r16":0.1,"r17":0.11,"r18":0.12,"r19":0.09,"r20":0.11,"r21":0.13,"r22":0.1,"r23":0.11,"r24":0.09,"b1":0.2,"b2":0.17,"b3":0.16,"b4":0.19,"b5":0.15,"b6":0.18,"b7":0.16,"b8":0.19,"b9":0.16,"b10":0.2,"b11":0.15,"b12":0.18,"b13":0.16,"b14":0.15,"b15":0.19,"b16":0.15,"b17":0.17,"b18":0.16,"b19":0.19,"b20":0.15,"b21":0.17,"b22":0.15,"b23":0.16,"b24":0.16},
{"t":90,"r1":0.1,"r2":0.12,"r3":0.08,"r4":0.09,"r5":0.11,"r6":0.12,"r7":0.1,"r8":0.08,"r9":0.11,"r10":0.12,"r11":0.09,"r12":0.1,"r13":0.07,"r14":0.11,"r15":0.12,"r16":0.09,"r17":0.1,"r18":0.11,"r19":0.07,"r20":0.1,"r21":0.12,"r22":0.08,"r23":0.1,"r24":0.08,"b1":0.23,"b2":0.2,"b3":0.18,"b4":0.22,"b5":0.17,"b6":0.2,"b7":0.18,"b8":0.21,"b9":0.18,"b10":0.23,"b11":0.17,"b12":0.2,"b13":0.18,"b14":0.17,"b15":0.21,"b16":0.16,"b17":0.19,"b18":0.18,"b19":0.21,"b20":0.17,"b21":0.19,"b22":0.16,"b23":0.18,"b24":0.18},
{"t":91,"r1":0.02,"r2":0.04,"r3":0.0,"r4":0.01,"r5":0.03,"r6":0.04,"r7":0.02,"r8":0.0,"r9":0.03,"r10":0.04,"r11":0.01,"r12":0.02,"r13":-0.01,"r14":0.03,"r15":0.04,"r16":0.01,"r17":0.02,"r18":0.03,"r19":-0.01,"r20":0.02,"r21":0.04,"r22":0.0,"r23":0.02,"r24":0.0,"b1":0.09,"b2":0.07,"b3":0.05,"b4":0.08,"b5":0.05,"b6":0.07,"b7":0.06,"b8":0.08,"b9":0.06,"b10":0.09,"b11":0.05,"b12":0.07,"b13":0.06,"b14":0.05,"b15":0.08,"b16":0.04,"b17":0.06,"b18":0.05,"b19":0.08,"b20":0.05,"b21":0.06,"b22":0.04,"b23":0.06,"b24":0.05},
{"t":92,"r1":-0.03,"r2":-0.05,"r3":-0.06,"r4":-0.04,"r5":-0.04,"r6":-0.05,"r7":-0.03,"r8":-0.06,"r9":-0.04,"r10":-0.05,"r11":-0.05,"r12":-0.03,"r13":-0.07,"r14":-0.04,"r15":-0.05,"r16":-0.05,"r17":-0.04,"r18":-0.04,"r19":-0.07,"r20":-0.04,"r21":-0.05,"r22":-0.06,"r23":-0.04,"r24":-0.06,"b1":-0.01,"b2":-0.03,"b3":-0.04,"b4":-0.02,"b5":-0.04,"b6":-0.03,"b7":-0.04,"b8":-0.02,"b9":-0.04,"b10":-0.01,"b11":-0.05,"b12":-0.03,"b13":-0.04,"b14":-0.05,"b15":-0.02,"b16":-0.05,"b17":-0.03,"b18":-0.04,"b19":-0.02,"b20":-0.05,"b21":-0.03,"b22":-0.05,"b23":-0.04,"b24":-0.04},
{"t":93,"r1":0.02,"r2":0.0,"r3":-0.02,"r4":0.01,"r5":0.01,"r6":0.0,"r7":0.02,"r8":-0.02,"r9":0.01,"r10":0.0,"r11":0.0,"r12":0.02,"r13":-0.03,"r14":0.01,"r15":0.0,"r16":0.0,"r17":0.01,"r18":0.01,"r19":-0.03,"r20":0.01,"r21":0.0,"r22":-0.02,"r23":0.01,"r24":-0.01,"b1":0.06,"b2":0.04,"b3":0.03,"b4":0.05,"b5":0.03,"b6":0.04,"b7":0.03,"b8":0.05,"b9":0.03,"b10":0.06,"b11":0.02,"b12":0.04,"b13":0.03,"b14":0.02,"b15":0.05,"b16":0.02,"b17":0.04,"b18":0.03,"b19":0.05,"b20":0.02,"b21":0.04,"b22":0.02,"b23":0.03,"b24":0.03},
{"t":94,"r1":0.08,"r2":0.06,"r3":0.05,"r4":0.07,"r5":0.07,"r6":0.06,"r7":0.08,"r8":0.04,"r9":0.07,"r10":0.06,"r11":0.06,"r12":0.08,"r13":0.03,"r14":0.07,"r15":0.06,"r16":0.06,"r17":0.07,"r18":0.07,"r19":0.03,"r20":0.07,"r21":0.06,"r22":0.04,"r23":0.07,"r24":0.05,"b1":0.13,"b2":0.11,"b3":0.1,"b4":0.12,"b5":0.09,"b6":0.11,"b7":0.1,"b8":0.12,"b9":0.1,"b10":0.13,"b11":0.09,"b12":0.11,"b13":0.1,"b14":0.09,"b15":0.12,"b16":0.08,"b17":0.11,"b18":0.1,"b19":0.12,"b20":0.09,"b21":0.11,"b22":0.08,"b23":0.1,"b24":0.1}
]
},
"hconcat": [
{
"width": 600, "height": 399,
"encoding": {
"x": {"field": "c", "type": "quantitative", "scale": {"domain": [-4.265, 30.551], "nice": false, "zero": false},
"axis": {"values": [0,2,4,6,8,10,12,14,16,18,20,22,24,26,28,30], "offset": -54.5, "tickSize": 5, "labelPadding": 9, "title": "Cycles", "titleX": 331.5, "titleY": 30.5, "titleBaseline": "top"}},
"y": {"field": "y", "type": "quantitative", "scale": {"domain": [-11354, 71771], "nice": false, "zero": false},
"axis": {"values": [0,10000,20000,30000,40000,50000,60000,70000], "offset": -73.5, "tickSize": 4, "labelPadding": 8, "labelExpr": "replace(format(datum.value, ','), ',', '.')", "title": "Fluorescence intensity", "titleX": -56, "titleY": 176.5, "titleAngle": 270, "titleBaseline": "alphabetic", "titleAlign": "center"}}
},
"layer": [
{"data": {"values": [{"c":0,"y":0},{"c":2,"y":0},{"c":4,"y":0},{"c":6,"y":0},{"c":8,"y":0},{"c":10,"y":0},{"c":12,"y":0},{"c":14,"y":0},{"c":16,"y":0},{"c":18,"y":0},{"c":20,"y":0},{"c":22,"y":0},{"c":24,"y":0},{"c":26,"y":0},{"c":28,"y":0},{"c":30,"y":0}]},
 "mark": {"type": "rule", "color": "#111111", "strokeWidth": 1},
 "encoding": {"y2": {"datum": 70000}}},
{"data": {"values": [{"c":0,"y":0},{"c":0,"y":10000},{"c":0,"y":20000},{"c":0,"y":30000},{"c":0,"y":40000},{"c":0,"y":50000},{"c":0,"y":60000},{"c":0,"y":70000}]},
 "mark": {"type": "rule", "color": "#111111", "strokeWidth": 1},
 "encoding": {"x2": {"datum": 30}}},
{"data": {"name": "ampLow"}, "transform": [{"flatten": ["c", "y"]}],
 "mark": {"type": "line", "color": "#4472c4", "strokeWidth": 1.1, "interpolate": "monotone", "point": {"filled": true, "size": 7, "shape": "square", "color": "#4472c4"}},
 "encoding": {"detail": {"field": "k", "type": "nominal"}}},
{"data": {"name": "ampHigh"}, "transform": [{"flatten": ["c", "y"]}],
 "mark": {"type": "line", "color": "#ff3300", "strokeWidth": 1.1, "interpolate": "monotone", "point": {"filled": true, "size": 7, "shape": "square", "color": "#ff3300"}},
 "encoding": {"detail": {"field": "k", "type": "nominal"}}},
{"data": {"values": [{"g":"Low","c":14.95,"c2":20.48,"y":53333,"y2":48542},{"g":"High","c":23.08,"c2":28.72,"y":33542,"y2":28333}]},
 "mark": {"type": "rect", "stroke": "#1a1a1a", "strokeWidth": 1.5},
 "encoding": {"x2": {"field": "c2"}, "y2": {"field": "y2"}, "color": {"field": "g", "type": "nominal", "scale": {"domain": ["Low", "High"], "range": ["#4472c4", "#ff3300"]}, "legend": null}}},
{"data": {"values": [{"label":"Low profile","c":17.715,"y":50938},{"label":"High profile","c":25.9,"y":30938}]},
 "mark": {"type": "text", "color": "white", "font": "Lato", "fontSize": 16, "align": "center", "baseline": "middle"},
 "encoding": {"text": {"field": "label"}}}
]
},
{
"width": 600, "height": 399,
"encoding": {
"x": {"field": "t", "type": "quantitative", "scale": {"domain": [56.757, 94.535], "nice": false, "zero": false},
"axis": {"values": [60,62,64,66,68,70,72,74,76,78,80,82,84,86,88,90,92,94], "offset": -54.5, "tickSize": 5, "labelPadding": 9, "title": "Cycles", "titleX": 321.5, "titleY": 30.5, "titleBaseline": "top"}},
"y": {"field": "y", "type": "quantitative", "scale": {"domain": [-5.568, 20.557], "nice": false, "zero": false},
"axis": {"values": [-2,0,2,4,6,8,10,12,14,16,18,20], "offset": -51.5, "tickSize": 4, "labelPadding": 8, "labelExpr": "'' + datum.value", "title": "ddRn/dT", "titleX": -33, "titleY": 176.5, "titleAngle": 270, "titleBaseline": "alphabetic", "titleAlign": "center"}}
},
"layer": [
{"data": {"values": [{"t":60,"y":-2},{"t":62,"y":-2},{"t":64,"y":-2},{"t":66,"y":-2},{"t":68,"y":-2},{"t":70,"y":-2},{"t":72,"y":-2},{"t":74,"y":-2},{"t":76,"y":-2},{"t":78,"y":-2},{"t":80,"y":-2},{"t":82,"y":-2},{"t":84,"y":-2},{"t":86,"y":-2},{"t":88,"y":-2},{"t":90,"y":-2},{"t":92,"y":-2},{"t":94,"y":-2}]},
 "mark": {"type": "rule", "color": "#111111", "strokeWidth": 1},
 "encoding": {"y2": {"datum": 20}}},
{"data": {"values": [{"t":60,"y":-2},{"t":60,"y":0},{"t":60,"y":2},{"t":60,"y":4},{"t":60,"y":6},{"t":60,"y":8},{"t":60,"y":10},{"t":60,"y":12},{"t":60,"y":14},{"t":60,"y":16},{"t":60,"y":18},{"t":60,"y":20}]},
 "mark": {"type": "rule", "color": "#111111", "strokeWidth": 1},
 "encoding": {"x2": {"datum": 94}}},
{"data": {"name": "melt"}, "transform": [{"fold": ["b1","b2","b3","b4","b5","b6","b7","b8","b9","b10","b11","b12","b13","b14","b15","b16","b17","b18","b19","b20","b21","b22","b23","b24"], "as": ["k", "y"]}],
 "mark": {"type": "line", "color": "#4472c4", "strokeWidth": 1.4, "interpolate": "monotone"},
 "encoding": {"detail": {"field": "k", "type": "nominal"}}},
{"data": {"name": "melt"}, "transform": [{"fold": ["r1","r2","r3","r4","r5","r6","r7","r8","r9","r10","r11","r12","r13","r14","r15","r16","r17","r18","r19","r20","r21","r22","r23","r24"], "as": ["k", "y"]}],
 "mark": {"type": "line", "color": "#ff3300", "strokeWidth": 1.4, "interpolate": "monotone"},
 "encoding": {"detail": {"field": "k", "type": "nominal"}}},
{"data": {"values": [{"g":"Low","t":81.14,"t2":87.14,"y":16.14,"y2":14.63},{"g":"High","t":71.14,"t2":77.23,"y":10.0,"y2":8.48}]},
 "mark": {"type": "rect", "stroke": "#1a1a1a", "strokeWidth": 1.5},
 "encoding": {"x2": {"field": "t2"}, "y2": {"field": "y2"}, "color": {"field": "g", "type": "nominal", "scale": {"domain": ["Low", "High"], "range": ["#4472c4", "#ff3300"]}, "legend": null}}},
{"data": {"values": [{"label":"Low profile","t":84.14,"y":15.385},{"label":"High profile","t":74.185,"y":9.24}]},
 "mark": {"type": "text", "color": "white", "font": "Lato", "fontSize": 16, "align": "center", "baseline": "middle"},
 "encoding": {"text": {"field": "label"}}}
]
}
],
"config": {
"view": {"fill": "white", "stroke": "#e6e6e6", "strokeWidth": 5},
"axis": {"domain": false, "grid": false, "ticks": true, "tickColor": "#000000", "tickWidth": 1, "labelFont": "Lato", "labelFontSize": 11.5, "labelColor": "#000000", "titleFont": "Lato", "titleFontSize": 13.5, "titleFontWeight": "normal", "titleColor": "#000000", "labelOverlap": false, "labelFlush": false}
}
}
